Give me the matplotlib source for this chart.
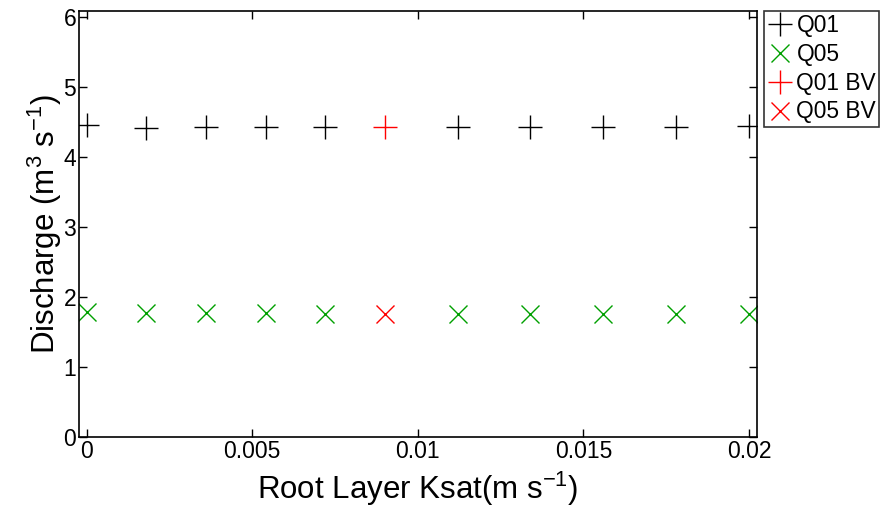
import matplotlib
matplotlib.use('Agg')
import matplotlib.pyplot as plt

plt.rcParams['font.family'] = ['Liberation Sans', 'DejaVu Sans']
plt.rcParams['mathtext.default'] = 'regular'

# root layer Ksat values (m s-1)
ksat = [0.0, 0.0018, 0.0036, 0.0054, 0.0072, 0.0112, 0.0134, 0.0156, 0.0178, 0.02]
q01 = [4.46, 4.42, 4.43, 4.43, 4.43, 4.43, 4.43, 4.43, 4.43, 4.44]
q05 = [1.78, 1.77, 1.77, 1.77, 1.76, 1.76, 1.76, 1.76, 1.76, 1.76]

# base value run
ksat_bv = [0.009]
q01_bv = [4.43]
q05_bv = [1.76]

fig = plt.figure(figsize=(8.94, 5.09), dpi=100)
ax = fig.add_axes([0.0884, 0.1415, 0.7584, 0.8369])

ax.plot(ksat, q01, '+', color='black', ms=17, mew=1, label='Q01')
ax.plot(ksat, q05, 'x', color='#00a000', ms=13, mew=1, label='Q05')
ax.plot(ksat_bv, q01_bv, '+', color='red', ms=17, mew=1, label='Q01 BV')
ax.plot(ksat_bv, q05_bv, 'x', color='red', ms=13, mew=1, label='Q05 BV')

ax.set_xlim(-0.00023, 0.02024)
ax.set_ylim(0, 6.09)
ax.set_xticks([0, 0.005, 0.01, 0.015, 0.02])
ax.set_xticklabels(['0', '0.005', '0.01', '0.015', '0.02'])
ax.set_yticks([0, 1, 2, 3, 4, 5, 6])
ax.tick_params(direction='in', top=True, right=True, length=6, width=1,
               labelsize=16.5, pad=2)
for s in ax.spines.values():
    s.set_linewidth(1.2)

ax.set_xlabel('Root Layer Ksat(m s$^{-1}$)', fontsize=22.5, labelpad=5)
ax.set_ylabel('Discharge (m$^{3}$ s$^{-1}$)', fontsize=22.5, labelpad=0)

leg = ax.legend(loc='upper left', bbox_to_anchor=(1.011, 1.0), fontsize=16.4,
                frameon=True, fancybox=False, edgecolor='black',
                handlelength=1.1, handletextpad=0.15, borderpad=0.15,
                labelspacing=0.25, borderaxespad=0, markerscale=1.0)
leg.get_frame().set_linewidth(1.2)

fig.savefig('out.png', dpi=100)
